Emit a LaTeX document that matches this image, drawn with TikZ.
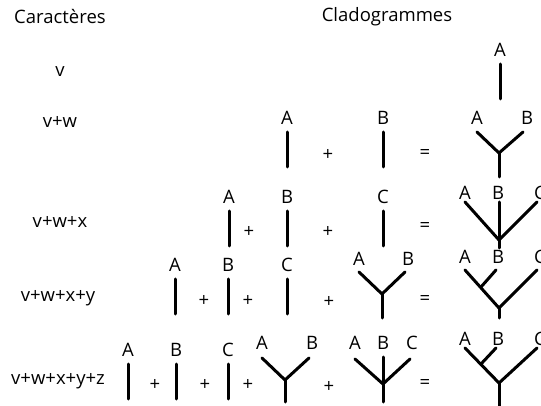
\documentclass[tikz,border=0pt]{standalone}
\usepackage{fontspec}
\setmainfont{Open Sans}

\begin{document}
\begin{tikzpicture}[x=1pt,y=-1pt,
    lbl/.style={font=\fontsize{18.5}{22}\selectfont, inner sep=0pt},
    branch/.style={line width=3pt, line cap=round}]
    \useasboundingbox (0,0) rectangle (541,406);
    % titres
    \node[lbl] (car) at (60,17) {Caractères};
    \node[lbl] (clad) at (387,17) {Cladogrammes};
    % caracteres
    \node[lbl] (c1) at (60,72) {v};
    \node[lbl] (c2) at (60,122) {v+w};
    \node[lbl] (c3) at (60,222) {v+w+x};
    \node[lbl] (c4) at (58,298) {v+w+x+y};
    \node[lbl] (c5) at (58,381) {v+w+x+y+z};
    % branches simples
    \foreach \x/\y/\t [count=\i] in {500/50/A,
        287/118/A, 383/118/B,
        229/197/A, 287/197/B, 383/197/C,
        175/265/A, 228/265/B, 287/265/C,
        128/350/A, 176/350/B, 228/350/C}
    {
        \node[lbl] (bar\i) at (\x,\y) {\t};
        \coordinate (bt\i) at (\x,\y+14);
        \coordinate (bb\i) at (\x,\y+49);
        \draw[branch] (bt\i) -- (bb\i);
    }
    % signes
    \foreach \x/\y/\t [count=\i] in {328/155/+, 425/154/=,
        249/232/+, 328/232/+, 425/227/=,
        204/301/+, 248/301/+, 329/302/+, 425/300/=,
        155/385/+, 205/385/+, 248/385/+, 329/387/+, 425/384/=}
        \node[lbl] (op\i) at (\x,\y) {\t};
    % v+w : A,B
    \node[lbl] (t2a) at (477,118) {A};
    \node[lbl] (t2b) at (527,118) {B};
    \coordinate (t2j) at (499,153);
    \draw[branch] (477,132) -- (t2j) -- (523,132);
    \draw[branch] (t2j) -- (499,177);
    % v+w+x : A,B,C
    \node[lbl] (t3a) at (465,193) {A};
    \node[lbl] (t3b) at (498,193) {B};
    \node[lbl] (t3c) at (540,193) {C};
    \coordinate (t3j) at (499,240);
    \draw[branch] (465,202) -- (t3j) -- (537,202);
    \draw[branch] (499,202) -- (t3j) -- (499,248);
    % v+w+x+y
    \node[lbl] (y4a) at (359,259) {A};
    \node[lbl] (y4b) at (408,259) {B};
    \coordinate (y4j) at (382,294);
    \draw[branch] (359,272) -- (y4j) -- (405,272);
    \draw[branch] (y4j) -- (382,318);
    \node[lbl] (t4a) at (465,257) {A};
    \node[lbl] (t4b) at (498,257) {B};
    \node[lbl] (t4c) at (540,257) {C};
    \coordinate (t4j) at (499,308);
    \coordinate (t4s) at (481,287);
    \draw[branch] (465,270) -- (t4j) -- (537,270);
    \draw[branch] (496,270) -- (t4s);
    \draw[branch] (t4j) -- (499,318);
    % v+w+x+y+z
    \node[lbl] (y5a) at (262,343) {A};
    \node[lbl] (y5b) at (312,343) {B};
    \coordinate (y5j) at (285,380);
    \draw[branch] (262,358) -- (y5j) -- (309,358);
    \draw[branch] (y5j) -- (285,402);
    \node[lbl] (s5a) at (355,343) {A};
    \node[lbl] (s5b) at (383,343) {B};
    \node[lbl] (s5c) at (412,343) {C};
    \coordinate (s5j) at (383,384);
    \draw[branch] (355,359) -- (s5j) -- (410,359);
    \draw[branch] (383,357) -- (s5j) -- (383,402);
    \node[lbl] (t5a) at (465,339) {A};
    \node[lbl] (t5b) at (498,339) {B};
    \node[lbl] (t5c) at (540,339) {C};
    \coordinate (t5j) at (499,383);
    \coordinate (t5s) at (481,364);
    \draw[branch] (465,348) -- (t5j) -- (537,348);
    \draw[branch] (496,348) -- (t5s);
    \draw[branch] (t5j) -- (499,410);
\end{tikzpicture}
\end{document}
